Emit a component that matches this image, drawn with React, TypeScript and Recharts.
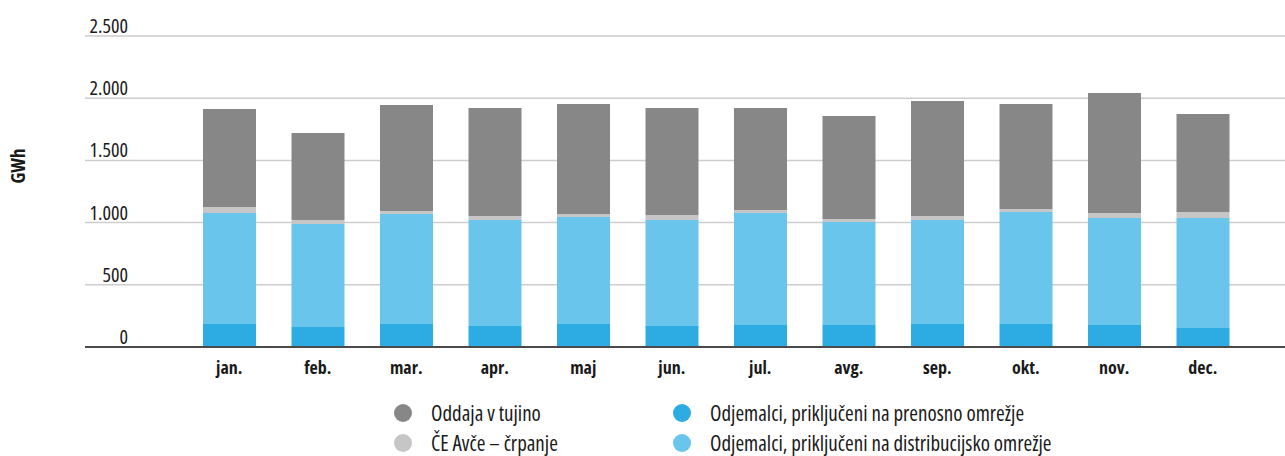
import React from 'react';
import { BarChart, Bar, XAxis, YAxis, CartesianGrid } from 'recharts';

const months = ['jan.', 'feb.', 'mar.', 'apr.', 'maj', 'jun.', 'jul.', 'avg.', 'sep.', 'okt.', 'nov.', 'dec.'];
const prenosno = [185, 161, 185, 169, 185, 169, 177, 177, 185, 185, 177, 153];
const distribucijsko = [892, 828, 884, 852, 860, 852, 900, 828, 836, 900, 860, 884];
const avce = [48, 32, 24, 32, 24, 40, 24, 24, 32, 24, 40, 48];
const oddaja = [788, 699, 852, 868, 884, 860, 820, 828, 924, 844, 965, 788];
const yTicks = [0, 500, 1000, 1500, 2000, 2500];

const seriesNames = {
  oddaja: 'Oddaja v tujino',
  avce: 'ČE Avče – črpanje',
  prenosno: 'Odjemalci, priključeni na prenosno omrežje',
  distribucijsko: 'Odjemalci, priključeni na distribucijsko omrežje',
};
const colors = {
  oddaja: '#878787',
  avce: '#c6c6c6',
  prenosno: '#2cace3',
  distribucijsko: '#69c5ec',
};

const data = months.map((m, i) => ({
  month: m,
  prenosno: prenosno[i],
  distribucijsko: distribucijsko[i],
  avce: avce[i],
  oddaja: oddaja[i],
}));

const FONT = '"Open Sans", sans-serif';
const textStyle = { fontFamily: FONT, fontStretch: 'condensed' as const };

const fmt = (v: number) => v.toLocaleString('de-DE');

const YTick = (props: any) => {
  const { x, y, payload } = props;
  return (
    <text x={x + 51} y={y - 3} textAnchor="end" fontSize={20} fill="#1a1a1a" style={textStyle}>
      {fmt(payload.value)}
    </text>
  );
};

const XTick = (props: any) => {
  const { x, y, payload } = props;
  return (
    <text x={x} y={y + 27} textAnchor="middle" fontSize={18} fontWeight="bold" fill="#1a1a1a" style={textStyle}>
      {payload.value}
    </text>
  );
};

const YLabel = () => (
  <text
    x={0}
    y={0}
    transform="translate(25, 166) rotate(-90)"
    textAnchor="middle"
    fontSize={19}
    fontWeight="bold"
    fill="#1a1a1a"
    style={textStyle}
  >
    GWh
  </text>
);

const legendCols = [
  ['oddaja', 'avce'],
  ['prenosno', 'distribucijsko'],
] as const;

export default function App() {
  return (
    <div style={{ position: 'absolute', left: 0, top: 0, width: 1285, height: 456, background: '#fff' }}>
      <BarChart
        width={1285}
        height={456}
        data={data}
        margin={{ top: 36, right: 0, left: 0, bottom: 79 }}
      >
        <CartesianGrid horizontal vertical={false} stroke="#cdcdcd" strokeWidth={1.5} />
        <YAxis
          width={85}
          domain={[0, 2500]}
          ticks={yTicks}
          axisLine={false}
          tickLine={false}
          tick={<YTick />}
          label={<YLabel />}
        />
        <XAxis
          dataKey="month"
          height={30}
          padding={{ left: 100, right: 38 }}
          axisLine={{ stroke: '#4a4a4a', strokeWidth: 2 }}
          tickLine={false}
          tickSize={0}
          tickMargin={0}
          tick={<XTick />}
          interval={0}
        />
        <Bar dataKey="prenosno" stackId="a" fill={colors.prenosno} barSize={53} isAnimationActive={false} />
        <Bar dataKey="distribucijsko" stackId="a" fill={colors.distribucijsko} barSize={53} isAnimationActive={false} />
        <Bar dataKey="avce" stackId="a" fill={colors.avce} barSize={53} isAnimationActive={false} />
        <Bar dataKey="oddaja" stackId="a" fill={colors.oddaja} barSize={53} isAnimationActive={false} />
      </BarChart>
      {legendCols.map((col, ci) => (
        <div key={ci} style={{ position: 'absolute', left: ci === 0 ? 394 : 673, top: 398 }}>
          {col.map((k) => (
            <div key={k} style={{ display: 'flex', alignItems: 'center', height: 30 }}>
              <span
                style={{
                  display: 'inline-block',
                  width: 18,
                  height: 18,
                  borderRadius: 9,
                  background: colors[k],
                  marginRight: 19,
                  flexShrink: 0,
                }}
              />
              <span style={{ ...textStyle, fontSize: 21, color: '#1a1a1a', whiteSpace: 'nowrap', lineHeight: '30px' }}>
                {seriesNames[k]}
              </span>
            </div>
          ))}
        </div>
      ))}
    </div>
  );
}
